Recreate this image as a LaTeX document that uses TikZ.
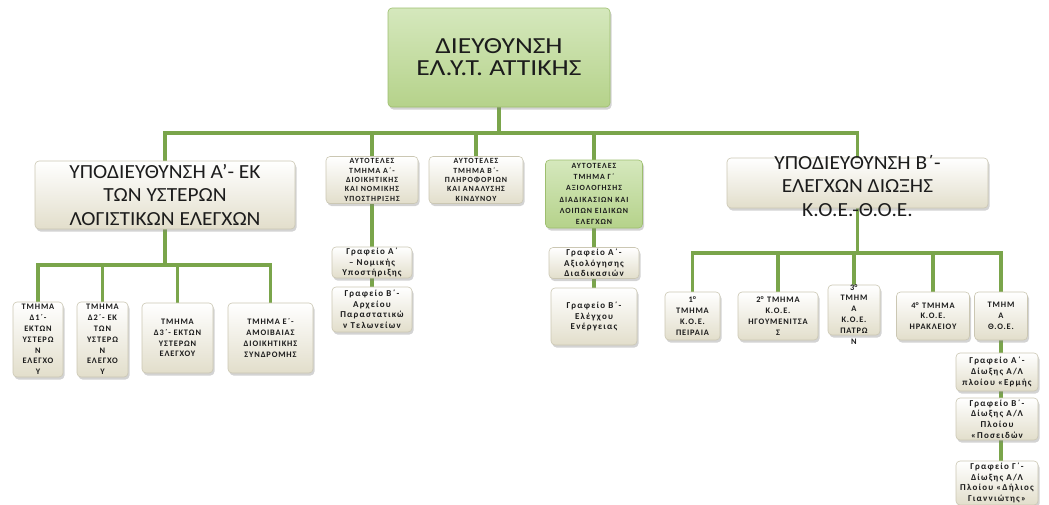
\documentclass[tikz,border=0pt]{standalone}
\usepackage{fontspec}
\setmainfont{Carlito}
\newfontfamily\topfont[FakeStretch=1.2]{Carlito}
\newfontfamily\subfont[FakeStretch=1.07]{Carlito}
\newfontfamily\capsfont{Carlito}
\usetikzlibrary{shadows,backgrounds}
\definecolor{linkgreen}{HTML}{7AA54B}
\definecolor{boxcream}{HTML}{E2DECB}
\definecolor{boxedge}{HTML}{CBC7B3}
\definecolor{greentop}{HTML}{D5E8BD}
\definecolor{greenbot}{HTML}{B5D28A}
\definecolor{greenedge}{HTML}{9DBE6E}
\definecolor{ink}{HTML}{1C1C1C}
\tikzset{sz/.style n args={2}{minimum width=#1pt,minimum height=#2pt}}
% text that may run out of its box
\newcommand\spill[2][0pt]{\smash{\raisebox{#1}{\begin{tabular}{@{}c@{}}#2\end{tabular}}}}

\begin{document}
\begin{tikzpicture}[x=1pt,y=-1pt,
  box/.style={rectangle,rounded corners=4pt,draw=boxedge,line width=.6pt,
    top color=white,bottom color=boxcream,text=ink,align=center,inner sep=1pt,
    drop shadow={shadow xshift=1.5pt,shadow yshift=-2.5pt,opacity=.35}},
  greenbox/.style={box,draw=greenedge,top color=greentop,bottom color=greenbot},
  head/.style={font=\subfont\fontsize{20}{23.5}\selectfont},
  tiny/.style={font=\capsfont\addfontfeature{LetterSpace=12}\bfseries\fontsize{7.9}{9.3}\selectfont},
  tinyloose/.style={font=\capsfont\addfontfeature{LetterSpace=12}\bfseries\fontsize{7.9}{11.3}\selectfont},
  unit/.style={font=\capsfont\addfontfeature{LetterSpace=10}\bfseries\fontsize{8.4}{10.8}\selectfont},
  office/.style={font=\capsfont\addfontfeature{LetterSpace=13}\bfseries\fontsize{9}{10.6}\selectfont},
  link/.style={draw=linkgreen,line width=3.5pt}]
  \useasboundingbox (0,0) rectangle (1049,504);
  % top
  \node[greenbox,sz={222}{99},font=\topfont\fontsize{23}{22}\selectfont] (dir) at (499,57.5)
    {ΔΙΕΥΘΥΝΣΗ\\ΕΛ.Υ.Τ. ΑΤΤΙΚΗΣ};
  % second row
  \node[box,head,sz={260}{68}] (sdA) at (165,195)
    {ΥΠΟΔΙΕΥΘΥΝΣΗ Α’- ΕΚ\\ΤΩΝ ΥΣΤΕΡΩΝ\\ΛΟΓΙΣΤΙΚΩΝ ΕΛΕΓΧΩΝ};
  \node[box,tiny,sz={92}{47}] (atA) at (372,180)
    {ΑΥΤΟΤΕΛΕΣ\\ΤΜΗΜΑ Α΄-\\ΔΙΟΙΚΗΤΙΚΗΣ\\ΚΑΙ ΝΟΜΙΚΗΣ\\ΥΠΟΣΤΗΡΙΞΗΣ};
  \node[box,tiny,sz={94}{47}] (atB) at (476,180)
    {ΑΥΤΟΤΕΛΕΣ\\ΤΜΗΜΑ Β΄-\\ΠΛΗΡΟΦΟΡΙΩΝ\\ΚΑΙ ΑΝΑΛΥΣΗΣ\\ΚΙΝΔΥΝΟΥ};
  \node[greenbox,tinyloose,sz={97}{68}] (atG) at (594,194)
    {ΑΥΤΟΤΕΛΕΣ\\ΤΜΗΜΑ Γ΄\\ΑΞΙΟΛΟΓΗΣΗΣ\\ΔΙΑΔΙΚΑΣΙΩΝ ΚΑΙ\\ΛΟΙΠΩΝ ΕΙΔΙΚΩΝ\\ΕΛΕΓΧΩΝ};
  \node[box,head,sz={261}{50}] (sdB) at (857.5,183)
    {\spill[-10pt]{ΥΠΟΔΙΕΥΘΥΝΣΗ Β΄-\\ΕΛΕΓΧΩΝ ΔΙΩΞΗΣ\\Κ.Ο.Ε.-Θ.Ο.Ε.}};
  % offices under the independent sections
  \node[box,office,sz={80}{31}] (gA1) at (372,262.5) {Γραφείο Α΄\\– Νομικής\\Υποστήριξης};
  \node[box,office,sz={80}{45}] (gA2) at (372,309.5) {Γραφείο Β΄-\\Αρχείου\\Παραστατικώ\\ν Τελωνείων};
  \node[box,office,sz={90}{31}] (gG1) at (594,263) {Γραφείο Α΄-\\Αξιολόγησης\\Διαδικασιών};
  \node[box,office,sz={86}{57}] (gG2) at (594,316.5) {Γραφείο Β΄-\\Ελέγχου\\Ενέργειας};
  % sections of A
  \node[box,unit,sz={50}{75}] (d1) at (38,339.5) {ΤΜΗΜΑ\\Δ1΄-\\ΕΚΤΩΝ\\ΥΣΤΕΡΩ\\Ν\\ΕΛΕΓΧΟ\\Υ};
  \node[box,unit,sz={51}{75}] (d2) at (102.5,339.5) {ΤΜΗΜΑ\\Δ2΄- ΕΚ\\ΤΩΝ\\ΥΣΤΕΡΩ\\Ν\\ΕΛΕΓΧΟ\\Υ};
  \node[box,unit,sz={71}{70}] (d3) at (177.5,338) {ΤΜΗΜΑ\\Δ3΄- ΕΚΤΩΝ\\ΥΣΤΕΡΩΝ\\ΕΛΕΓΧΟΥ};
  \node[box,unit,sz={85}{70}] (e) at (270.5,338) {ΤΜΗΜΑ Ε΄-\\ΑΜΟΙΒΑΙΑΣ\\ΔΙΟΙΚΗΤΙΚΗΣ\\ΣΥΝΔΡΟΜΗΣ};
  % sections of B
  \node[box,unit,sz={55}{48}] (k1) at (692.5,316) {1\textsuperscript{ο}\\ΤΜΗΜΑ\\Κ.Ο.Ε.\\ΠΕΙΡΑΙΑ};
  \node[box,unit,sz={80}{48}] (k2) at (778,316) {2\textsuperscript{ο} ΤΜΗΜΑ\\Κ.Ο.Ε.\\ΗΓΟΥΜΕΝΙΤΣΑ\\Σ};
  \node[box,unit,sz={52}{50}] (k3) at (854,310) {\spill[-7pt]{3\textsuperscript{ο}\\ΤΜΗΜ\\Α\\Κ.Ο.Ε.\\ΠΑΤΡΩ\\Ν}};
  \node[box,unit,sz={73}{48}] (k4) at (933,316) {4\textsuperscript{ο} ΤΜΗΜΑ\\Κ.Ο.Ε.\\ΗΡΑΚΛΕΙΟΥ};
  \node[box,unit,sz={53}{48}] (th) at (1001,316) {ΤΜΗΜ\\Α\\Θ.Ο.Ε.};
  \node[box,office,sz={82}{38}] (t1) at (997,372) {Γραφείο Α΄-\\Δίωξης Α/Λ\\πλοίου «Ερμής};
  \node[box,office,sz={82}{42}] (t2) at (997,419) {Γραφείο Β΄-\\Δίωξης Α/Λ\\Πλοίου\\«Ποσειδών};
  \node[box,office,sz={82}{44}] (t3) at (997,483) {Γραφείο Γ΄-\\Δίωξης Α/Λ\\Πλοίου «Δήλιος\\Γιαννιώτης»};
  % connectors
  \coordinate (bus) at (499,133);
  \coordinate (busA) at (165,265);
  \coordinate (busB) at (857.5,253);
  \begin{scope}[on background layer]
    \draw[link] (dir.south) -- (bus);
    \foreach \n in {sdA,atA,atB,atG,sdB} \draw[link] (bus) -| (\n.north);
    \draw[link] (sdA.south) -- (busA);
    \foreach \n in {d1,d2,d3,e} \draw[link] (busA) -| (\n.north);
    \draw[link] (sdB.south) -- (busB);
    \foreach \n in {k1,k2,k3,k4,th} \draw[link] (busB) -| (\n.north);
    \draw[link] (atA.south) -- (gA2.north);
    \draw[link] (atG.south) -- (gG2.north);
    \draw[link] (th.south) -- (th.south |- t3.north);
  \end{scope}
\end{tikzpicture}
\end{document}
